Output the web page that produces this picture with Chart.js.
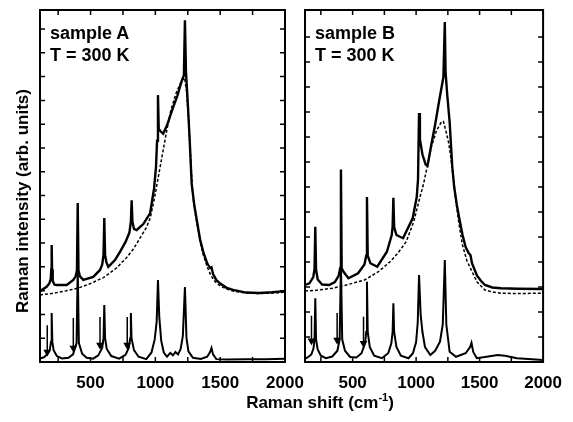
<!DOCTYPE html>
<html>
<head>
<meta charset="utf-8">
<script src="https://cdn.jsdelivr.net/npm/chart.js@4.4.0/dist/chart.umd.min.js"></script>
<style>
  body { margin: 0; background: #fff; }
  #wrap { position: relative; width: 573px; height: 422px; overflow: hidden; font-family: "Liberation Sans", Arial, sans-serif; font-weight: bold; color: #000; }
  canvas { position: absolute; top: 0; }
  #chartA { left: 0; }
  #chartB { left: 280px; }
  .txt { position: absolute; white-space: nowrap; z-index: 2; }
  .panel-label { font-size: 18px; line-height: 22px; top: 22px; }
  #xtitle { left: 170px; width: 300px; top: 393px; font-size: 17px; line-height: 20px; text-align: center; }
  #ytitle { left: -127px; width: 300px; top: 191px; font-size: 17px; line-height: 20px; text-align: center; transform: rotate(-90deg); }
  sup { font-size: 11px; line-height: 0; }
</style>
</head>
<body>
<div id="wrap">
  <canvas id="chartA" width="320" height="422"></canvas>
  <canvas id="chartB" width="293" height="422"></canvas>
  <div class="txt panel-label" style="left:50px">sample A<br>T = 300 K</div>
  <div class="txt panel-label" style="left:315px">sample B<br>T = 300 K</div>
  <div class="txt" id="xtitle">Raman shift (cm<sup>-1</sup>)</div>
  <div class="txt" id="ytitle">Raman intensity (arb. units)</div>
</div>
<script>
const FONT = '"Liberation Sans", Arial, sans-serif';

// tick positions (x in cm-1, y in arb. units)
const xTicks = [250, 500, 750, 1000, 1250, 1500, 1750, 2000];
const yTicksA = [1, 2, 3, 4, 5, 6, 7, 8, 9, 10, 11, 12, 13, 14];
const yTicksB = [1, 2, 3, 4, 5, 6, 7, 8, 9, 10, 11, 12, 13];

// sample A - measured spectrum (upper)
const aUpperX = [110, 161, 182, 193, 197, 200, 203, 208, 222, 239, 316, 367, 385, 395, 401, 407, 418, 444, 521, 573,
    590, 600, 606, 612, 622, 637, 690, 727, 770, 800, 811, 817, 823, 835, 856, 907, 959, 990, 1005, 1013,
    1020, 1026, 1040, 1060, 1090, 1130, 1170, 1205, 1220, 1228, 1236, 1250, 1265, 1280, 1300, 1320, 1345, 1370, 1400, 1422,
    1433, 1445, 1470, 1500, 1550, 1600, 1700, 1800, 1900, 2000];
const aUpperY = [2.98, 3.16, 3.3, 3.5, 3.9, 4.92, 3.9, 3.4, 3.25, 3.24, 3.24, 3.45, 3.6, 3.85, 6.68, 3.85, 3.6, 3.45, 3.58, 3.87,
    4.1, 4.5, 6.05, 4.5, 4.2, 4.0, 4.3, 4.63, 5.05, 5.45, 5.9, 6.8, 5.9, 5.6, 5.55, 5.8, 6.25, 7.3, 8.2, 9.3,
    11.22, 9.8, 9.7, 9.6, 9.95, 10.6, 11.2, 11.85, 12.05, 14.37, 12.2, 10.9, 9.3, 7.5, 6.6, 5.95, 5.15, 4.62, 4.15, 3.95,
    3.98, 3.7, 3.45, 3.3, 3.12, 3.03, 2.92, 2.9, 2.93, 2.98];

// sample A - fitted background (dotted)
const aFitX = [110, 200, 300, 400, 500, 600, 700, 780, 830, 880, 930, 960, 980, 1000, 1030, 1060, 1090, 1120, 1160, 1200,
    1225, 1240, 1255, 1270, 1285, 1300, 1320, 1345, 1370, 1400, 1430, 1460, 1500, 1550, 1600, 1700, 1800, 1900, 2000];
const aFitY = [2.82, 2.88, 2.98, 3.1, 3.3, 3.55, 3.95, 4.4, 4.75, 5.2, 5.65, 6.05, 6.55, 7.1, 8.0, 8.9, 9.8, 10.6, 11.3, 11.8,
    11.95, 11.4, 10.3, 8.8, 7.3, 6.5, 5.85, 5.05, 4.5, 4.0, 3.62, 3.38, 3.2, 3.07, 2.98, 2.9, 2.88, 2.9, 2.93];

// sample A - difference spectrum (lower)
const aLowerX = [110, 140, 165, 185, 195, 200, 205, 215, 240, 280, 330, 365, 392, 401, 410, 435, 470, 520, 560, 590,
    600, 606, 612, 625, 660, 720, 770, 795, 806, 811, 816, 835, 870, 930, 970, 995, 1010, 1020, 1030, 1045,
    1065, 1090, 1115, 1135, 1155, 1175, 1195, 1212, 1228, 1240, 1255, 1290, 1350, 1400, 1422, 1433, 1445, 1470, 1550, 1700,
    1850, 2000];
const aLowerY = [0.15, 0.2, 0.32, 0.5, 0.85, 2.06, 0.85, 0.5, 0.25, 0.15, 0.18, 0.32, 0.8, 3.9, 0.8, 0.35, 0.18, 0.14, 0.28, 0.6,
    1.0, 2.4, 1.0, 0.55, 0.25, 0.14, 0.3, 0.6, 1.0, 2.06, 1.0, 0.5, 0.22, 0.12, 0.4, 0.95, 1.7, 3.45, 1.9, 0.9,
    0.4, 0.22, 0.38, 0.28, 0.42, 0.32, 0.55, 1.1, 3.15, 1.0, 0.45, 0.18, 0.13, 0.22, 0.42, 0.59, 0.32, 0.12, 0.1, 0.12,
    0.12, 0.14];

const aArrowX = [166, 367, 573, 783];
const aArrowTop = [1.55, 1.85, 1.89, 1.89];
const aArrowBottom = [0.42, 0.59, 0.71, 0.71];

// sample B - measured spectrum (upper)
const bUpperX = [125, 160, 190, 200, 206, 212, 225, 260, 315, 360, 390, 402, 408, 414, 430, 467, 543, 593, 607, 613,
    619, 640, 694, 770, 808, 815, 821, 827, 845, 897, 973, 1005, 1015, 1023, 1030, 1050, 1075, 1090, 1120, 1150,
    1180, 1201, 1215, 1226, 1232, 1245, 1264, 1285, 1300, 1320, 1340, 1365, 1390, 1415, 1428, 1440, 1460, 1480, 1510, 1542,
    1600, 1668, 1800, 2000];
const bUpperY = [3.08, 3.15, 3.4, 3.7, 5.41, 3.7, 3.3, 3.1, 3.08, 3.2, 3.45, 3.75, 7.7, 3.75, 3.6, 3.35, 3.55, 3.9, 4.25, 6.6,
    4.25, 3.95, 3.81, 4.41, 5.08, 5.4, 6.57, 5.4, 5.08, 4.95, 5.75, 6.6, 7.3, 9.96, 8.9, 8.3, 7.9, 7.85, 8.7, 9.5,
    10.4, 11.0, 11.4, 13.6, 11.6, 10.7, 9.6, 7.8, 7.0, 6.3, 5.75, 5.1, 4.6, 4.35, 4.28, 3.95, 3.7, 3.45, 3.25, 3.08,
    2.98, 2.95, 2.93, 2.92];

// sample B - fitted background (dotted)
const bFitX = [125, 200, 340, 450, 593, 700, 795, 860, 922, 980, 1036, 1060, 1087, 1120, 1160, 1201, 1215, 1239, 1255, 1270,
    1289, 1310, 1335, 1365, 1400, 1441, 1480, 1542, 1600, 1668, 1800, 2000];
const bFitY = [2.84, 2.86, 2.95, 3.08, 3.28, 3.6, 4.01, 4.38, 4.81, 5.6, 6.7, 7.15, 7.81, 8.6, 9.25, 9.62, 9.62, 9.15, 8.8, 8.3,
    7.55, 6.6, 5.6, 4.68, 4.05, 3.61, 3.2, 2.88, 2.8, 2.75, 2.74, 2.75];

// sample B - difference spectrum (lower)
const bLowerX = [125, 150, 175, 192, 200, 206, 212, 225, 250, 290, 340, 380, 398, 408, 418, 440, 480, 530, 570, 598,
    607, 613, 619, 635, 670, 730, 780, 805, 815, 821, 827, 845, 880, 940, 975, 1000, 1013, 1023, 1036, 1050,
    1070, 1112, 1150, 1188, 1210, 1226, 1238, 1264, 1314, 1390, 1425, 1436, 1450, 1478, 1542, 1643, 1700, 1795, 2000];
const bLowerY = [0.12, 0.2, 0.3, 0.55, 0.9, 2.55, 0.9, 0.5, 0.25, 0.15, 0.22, 0.45, 0.9, 3.9, 0.9, 0.45, 0.2, 0.18, 0.35, 0.75,
    1.2, 3.21, 1.2, 0.6, 0.25, 0.15, 0.35, 0.75, 1.2, 2.35, 1.2, 0.6, 0.25, 0.15, 0.35, 0.8, 1.6, 3.48, 1.88, 1.2,
    0.6, 0.28, 0.45, 0.81, 1.5, 4.08, 1.5, 0.41, 0.21, 0.35, 0.6, 0.77, 0.4, 0.15, 0.2, 0.28, 0.25, 0.15, 0.08];

const bArrowX = [176, 378, 586];
const bArrowTop = [1.85, 1.96, 1.81];
const bArrowBottom = [0.85, 0.88, 0.75];


function toPoints(xs, ys) {
    return xs.map((x, i) => ({ x: x, y: ys[i] }));
}

function arrowPoints(xs, tops, bottoms) {
    const pts = [];
    xs.forEach((x, i) => {
        pts.push({ x: x, y: tops[i] });
        pts.push({ x: x, y: bottoms[i] });
        pts.push({ x: x, y: null });
    });
    return pts;
}

// frame and inward ticks on all four sides
const framePlugin = {
    id: 'frame',
    afterDatasetsDraw(chart, args, opts) {
        const ctx = chart.ctx;
        const a = chart.chartArea;
        const sx = chart.scales.x;
        const sy = chart.scales.y;
        ctx.save();
        ctx.strokeStyle = '#000';
        ctx.lineWidth = 1.5;
        ctx.beginPath();
        opts.xTicks.forEach(v => {
            const px = sx.getPixelForValue(v);
            ctx.moveTo(px, a.bottom);
            ctx.lineTo(px, a.bottom - 5);
            ctx.moveTo(px, a.top);
            ctx.lineTo(px, a.top + 5);
        });
        opts.yTicks.forEach(v => {
            const py = sy.getPixelForValue(v);
            ctx.moveTo(a.left, py);
            ctx.lineTo(a.left + 5, py);
            ctx.moveTo(a.right, py);
            ctx.lineTo(a.right - 5, py);
        });
        ctx.stroke();
        ctx.lineWidth = 2;
        ctx.strokeRect(a.left, a.top, a.right - a.left, a.bottom - a.top);
        ctx.restore();
    }
};

function makePanel(id, p) {
    const ctx = document.getElementById(id).getContext('2d');
    return new Chart(ctx, {
        type: 'line',
        data: {
            datasets: [
                { data: toPoints(p.upperX, p.upperY), borderColor: '#000', borderWidth: 2.4 },
                { data: toPoints(p.fitX, p.fitY), borderColor: '#000', borderWidth: 1.5, borderDash: [3, 2] },
                { data: toPoints(p.lowerX, p.lowerY), borderColor: '#000', borderWidth: 2 },
                {
                    data: arrowPoints(p.arrowX, p.arrowTop, p.arrowBottom),
                    borderColor: '#000',
                    backgroundColor: '#000',
                    borderWidth: 1.5,
                    pointStyle: 'triangle',
                    rotation: 180,
                    pointRadius: c => (c.dataIndex % 3 === 1 ? 3 : 0)
                }
            ]
        },
        options: {
            responsive: false,
            animation: false,
            spanGaps: false,
            elements: {
                line: { tension: 0, fill: false },
                point: { radius: 0 }
            },
            layout: { padding: p.padding },
            plugins: {
                legend: { display: false },
                tooltip: { enabled: false },
                frame: { xTicks: xTicks, yTicks: p.yTicks }
            },
            scales: {
                x: {
                    type: 'linear',
                    min: p.xMin,
                    max: 2000,
                    afterBuildTicks: s => { s.ticks = xTicks.map(v => ({ value: v })); },
                    afterFit: s => { s.height = 60; },
                    grid: { display: false, drawTicks: false },
                    border: { display: false },
                    ticks: {
                        autoSkip: false,
                        maxRotation: 0,
                        padding: 11,
                        color: '#000',
                        font: { family: FONT, size: 17, weight: 'bold' },
                        callback: v => (v % 500 === 0 ? String(v) : '')
                    }
                },
                y: {
                    type: 'linear',
                    min: 0,
                    max: p.yMax,
                    display: false
                }
            }
        },
        plugins: [framePlugin]
    });
}

makePanel('chartA', {
    upperX: aUpperX, upperY: aUpperY,
    fitX: aFitX, fitY: aFitY,
    lowerX: aLowerX, lowerY: aLowerY,
    arrowX: aArrowX, arrowTop: aArrowTop, arrowBottom: aArrowBottom,
    yTicks: yTicksA,
    xMin: 110,
    yMax: 14.8,
    padding: { left: 40, right: 35, top: 10, bottom: 0 }
});

makePanel('chartB', {
    upperX: bUpperX, upperY: bUpperY,
    fitX: bFitX, fitY: bFitY,
    lowerX: bLowerX, lowerY: bLowerY,
    arrowX: bArrowX, arrowTop: bArrowTop, arrowBottom: bArrowBottom,
    yTicks: yTicksB,
    xMin: 125,
    yMax: 14.08,
    padding: { left: 25, right: 21, top: 10, bottom: 0 }
});
</script>
</body>
</html>
